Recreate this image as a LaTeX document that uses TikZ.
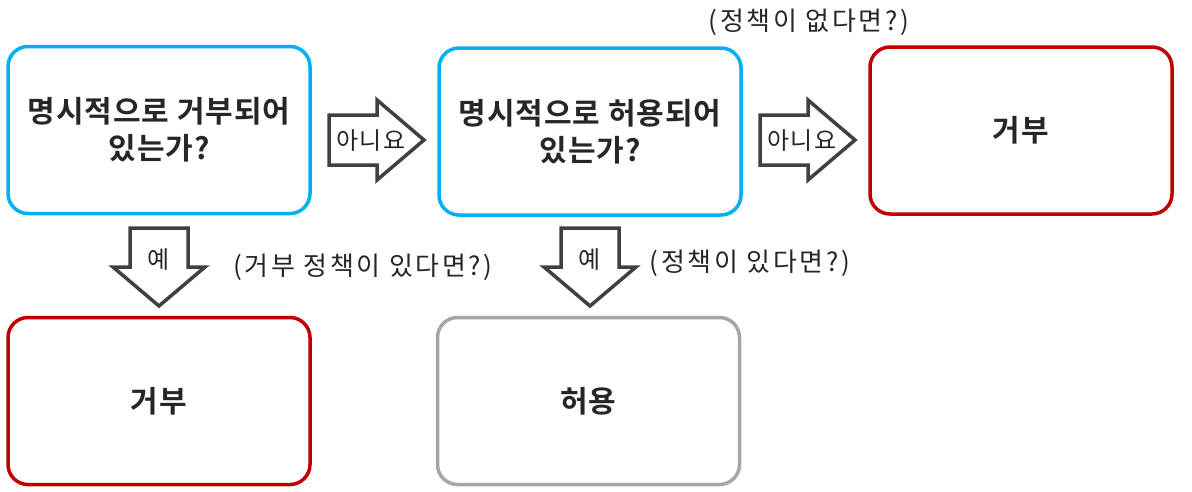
\documentclass[tikz,border=0pt]{standalone}
\usepackage{fontspec}
\newfontfamily\kr[LetterSpace=10]{Noto Sans CJK KR}
\newfontfamily\krs[LetterSpace=4]{Noto Sans CJK KR}
\newfontfamily\krb[LetterSpace=3]{Noto Sans CJK KR Bold}
\definecolor{cyanb}{HTML}{00B0F0}
\definecolor{redb}{HTML}{C00000}
\definecolor{grayb}{HTML}{A6A6A6}
\definecolor{arrowc}{HTML}{404040}
\definecolor{txt}{HTML}{262626}
\tikzset{
  box/.style={draw, line width=3.5pt, rounded corners=20pt, minimum width=302pt, minimum height=167pt, align=center, text=txt, font=\krb\fontsize{30}{37}\selectfont, inner sep=0pt},
  blockarrow/.style={draw=arrowc, fill=white, line width=3.5pt, line join=miter},
  lab/.style={text=txt, font=\kr\fontsize{26}{30}\selectfont, inner sep=0pt},
  alab/.style={text=txt, font=\krs\fontsize{24}{28}\selectfont, inner sep=0pt},
}
\begin{document}
\begin{tikzpicture}[x=1pt,y=-1pt]
\useasboundingbox (0,0) rectangle (1192,491);
\node[box, draw=cyanb] (q1) at (159,130) {명시적으로 거부되어\\있는가?};
\node[box, draw=cyanb] (q2) at (590,131.5) {명시적으로 허용되어\\있는가?};
\node[box, draw=redb] (d1) at (1021,130.5) {거부};
\node[box, draw=redb] (d2) at (159,401) {거부};
\node[box, draw=grayb] (a1) at (588.5,401) {허용};
% right arrows
\foreach \dx in {0,431}{
  \draw[blockarrow] (329+\dx,115) -- (377+\dx,115) -- (377+\dx,100) -- (424+\dx,140) -- (377+\dx,180) -- (377+\dx,165) -- (329+\dx,165) -- cycle;
}
% down arrows
\foreach \dx in {0,431}{
  \draw[blockarrow] (130+\dx,228) -- (188+\dx,228) -- (188+\dx,267) -- (205+\dx,267) -- (159+\dx,306) -- (113+\dx,267) -- (130+\dx,267) -- cycle;
}
\node[alab] (n1) at (371,141) {아니요};
\node[alab] (n2) at (802,141) {아니요};
\node[alab] (y1) at (159,260) {예};
\node[alab] (y2) at (590,260) {예};
\node[lab] (t1) at (809,22) {(정책이 없다면?)};
\node[lab] (t2) at (363,267) {(거부 정책이 있다면?)};
\node[lab] (t3) at (750,263) {(정책이 있다면?)};
\end{tikzpicture}
\end{document}
